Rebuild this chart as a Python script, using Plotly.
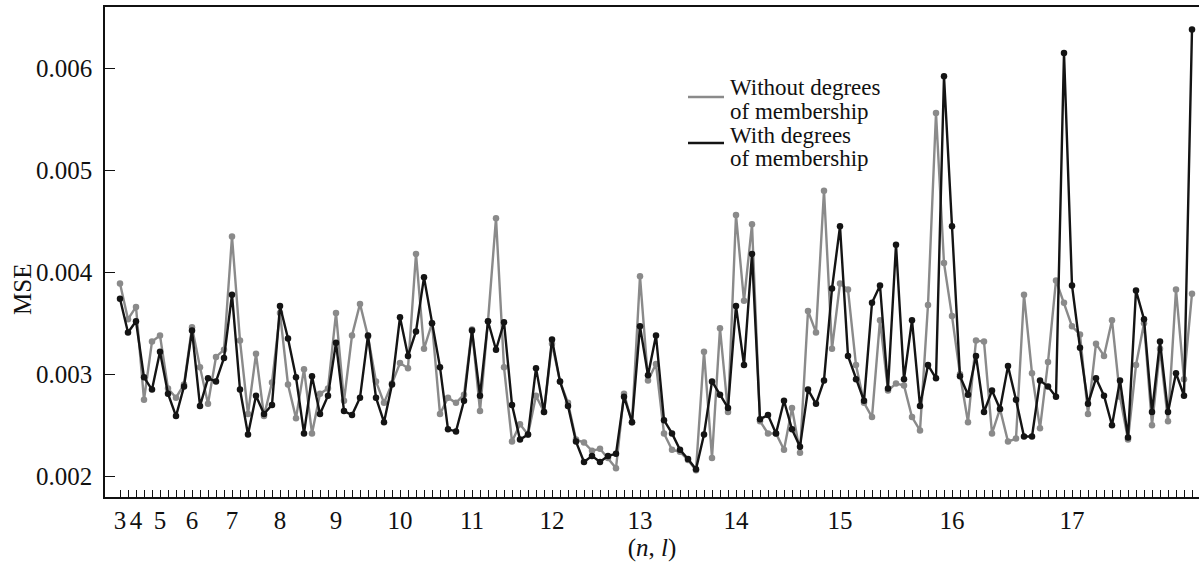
import plotly.graph_objects as go

# (n, l) structure: for each n, number of l values plotted
n_values = [3, 4, 5, 6, 7, 8, 9, 10, 11, 12, 13, 14, 15, 16, 17]
l_counts = [2, 3, 4, 5, 6, 7, 8, 9, 10, 11, 12, 13, 14, 15, 16]

mse_without = [
    0.00389, 0.00354, 0.00366, 0.00275, 0.00332, 0.00338, 0.00286, 0.00277, 0.00290, 0.00346,
    0.00307, 0.00271, 0.00317, 0.00324, 0.00435, 0.00333, 0.00261, 0.00320, 0.00259, 0.00292,
    0.00360, 0.00290, 0.00257, 0.00305, 0.00242, 0.00281, 0.00286, 0.00360, 0.00274, 0.00338,
    0.00369, 0.00337, 0.00293, 0.00272, 0.00291, 0.00311, 0.00306, 0.00418, 0.00325, 0.00350,
    0.00261, 0.00277, 0.00272, 0.00280, 0.00344, 0.00264, 0.00352, 0.00453, 0.00307, 0.00234,
    0.00251, 0.00241, 0.00279, 0.00263, 0.00330, 0.00293, 0.00272, 0.00236, 0.00233, 0.00225,
    0.00227, 0.00218, 0.00208, 0.00281, 0.00253, 0.00396, 0.00294, 0.00310, 0.00242, 0.00226,
    0.00224, 0.00216, 0.00206, 0.00322, 0.00218, 0.00345, 0.00263, 0.00456, 0.00372, 0.00447,
    0.00254, 0.00242, 0.00242, 0.00226, 0.00267, 0.00223, 0.00362, 0.00341, 0.00480, 0.00325,
    0.00389, 0.00383, 0.00309, 0.00272, 0.00258, 0.00353, 0.00284, 0.00291, 0.00289, 0.00258,
    0.00245, 0.00368, 0.00556, 0.00409, 0.00357, 0.00300, 0.00253, 0.00333, 0.00332, 0.00242,
    0.00266, 0.00234, 0.00237, 0.00378, 0.00301, 0.00247, 0.00312, 0.00392, 0.00370, 0.00347,
    0.00339, 0.00261, 0.00330, 0.00318, 0.00353, 0.00278, 0.00236, 0.00309, 0.00350, 0.00250,
    0.00325, 0.00254, 0.00383, 0.00295, 0.00379,
]

mse_with = [
    0.00374, 0.00341, 0.00352, 0.00297, 0.00285, 0.00322, 0.00281, 0.00259, 0.00288, 0.00343,
    0.00269, 0.00296, 0.00293, 0.00316, 0.00378, 0.00285, 0.00241, 0.00279, 0.00261, 0.00270,
    0.00367, 0.00335, 0.00297, 0.00242, 0.00298, 0.00261, 0.00279, 0.00331, 0.00264, 0.00260,
    0.00277, 0.00338, 0.00277, 0.00253, 0.00290, 0.00356, 0.00318, 0.00342, 0.00395, 0.00350,
    0.00307, 0.00246, 0.00244, 0.00274, 0.00343, 0.00279, 0.00352, 0.00324, 0.00351, 0.00270,
    0.00236, 0.00241, 0.00306, 0.00263, 0.00334, 0.00293, 0.00269, 0.00234, 0.00214, 0.00220,
    0.00214, 0.00220, 0.00222, 0.00278, 0.00253, 0.00347, 0.00299, 0.00338, 0.00255, 0.00242,
    0.00226, 0.00217, 0.00207, 0.00241, 0.00293, 0.00280, 0.00267, 0.00367, 0.00309, 0.00418,
    0.00256, 0.00260, 0.00242, 0.00274, 0.00246, 0.00229, 0.00285, 0.00271, 0.00294, 0.00384,
    0.00445, 0.00318, 0.00295, 0.00274, 0.00370, 0.00387, 0.00286, 0.00427, 0.00295, 0.00353,
    0.00269, 0.00309, 0.00296, 0.00592, 0.00445, 0.00298, 0.00280, 0.00318, 0.00263, 0.00284,
    0.00266, 0.00308, 0.00275, 0.00239, 0.00239, 0.00294, 0.00288, 0.00278, 0.00615, 0.00387,
    0.00326, 0.00271, 0.00296, 0.00279, 0.00250, 0.00294, 0.00238, 0.00382, 0.00354, 0.00263,
    0.00332, 0.00263, 0.00301, 0.00279, 0.00638,
]

y_tickvals = [0.002, 0.003, 0.004, 0.005, 0.006]
y_ticktext = ["0.002", "0.003", "0.004", "0.005", "0.006"]

series_names = [["Without degrees", "of membership"], ["With degrees", "of membership"]]

# build x positions and tick labels from the (n, l) structure
x = []
tick_text = []
idx = 0
for n, cnt in zip(n_values, l_counts):
    for k in range(cnt):
        x.append(idx)
        tick_text.append(str(n) if k == 0 else "")
        idx += 1

GRAY = "#8a8a8a"
BLACK = "#141414"
FONT = "Liberation Serif"
TXT = "#111"

# plot-area geometry (pixels) used to place decorations
L, R, T, B = 105, 2, 7, 65
W, H = 1201, 562
PW, PH = W - L - R, H - T - B


def px(xp):
    return (xp - L) / PW


def py(yp):
    return (H - B - yp) / PH


fig = go.Figure()
fig.add_trace(go.Scatter(
    x=x, y=mse_without, mode="lines+markers", name=" ".join(series_names[0]),
    line=dict(color=GRAY, width=2.4), marker=dict(color=GRAY, size=6.5),
    showlegend=False, hoverinfo="skip"))
fig.add_trace(go.Scatter(
    x=x, y=mse_with, mode="lines+markers", name=" ".join(series_names[1]),
    line=dict(color=BLACK, width=2.4), marker=dict(color=BLACK, size=6.5),
    showlegend=False, hoverinfo="skip"))

# legend (line keys + two-line labels, tight leading as in the original)
legend_rows = [(GRAY, 97, [88, 111]), (BLACK, 143, [135, 158])]
for (color, key_y, text_ys), lines in zip(legend_rows, series_names):
    fig.add_shape(type="line", xref="paper", yref="paper",
                  x0=px(688), x1=px(724), y0=py(key_y), y1=py(key_y),
                  line=dict(color=color, width=2.4))
    for ty, t in zip(text_ys, lines):
        fig.add_annotation(xref="paper", yref="paper", x=px(728), y=py(ty),
                           xanchor="left", yanchor="middle", showarrow=False,
                           text=t, font=dict(family=FONT, size=23, color=TXT))

# y-axis title, placed slightly below the middle as in the original
fig.add_annotation(xref="paper", yref="paper", x=px(22), y=py(290),
                   xanchor="center", yanchor="middle", showarrow=False,
                   text="MSE", textangle=-90,
                   font=dict(family=FONT, size=25, color=TXT))

fig.update_layout(
    width=W, height=H,
    margin=dict(l=L, r=R, t=T, b=B),
    paper_bgcolor="white", plot_bgcolor="white",
    font=dict(family=FONT, size=25, color=TXT),
    showlegend=False,
)
fig.update_xaxes(
    range=[-1.875, 134.875],
    tickmode="array", tickvals=x, ticktext=tick_text,
    ticks="inside", ticklen=7, tickwidth=1.2, tickcolor=TXT,
    showline=True, linecolor=TXT, linewidth=1.5, mirror=True,
    showgrid=False, zeroline=False,
    tickfont=dict(family=FONT, size=25, color=TXT),
    ticklabelstandoff=0,
    title=dict(text="(<i>n</i>, <i>l</i>)", font=dict(family=FONT, size=25), standoff=3),
)
fig.update_yaxes(
    range=[0.001797, 0.0066],
    tickmode="array", tickvals=y_tickvals, ticktext=y_ticktext,
    ticks="inside", ticklen=10, tickwidth=1.2, tickcolor=TXT,
    showline=True, linecolor=TXT, linewidth=1.5,
    showgrid=False, zeroline=False,
    tickfont=dict(family=FONT, size=25, color=TXT),
    ticklabelstandoff=6,
)

fig.write_html("out.html", config={"displayModeBar": False},
               post_script="document.body.style.margin='0';")
